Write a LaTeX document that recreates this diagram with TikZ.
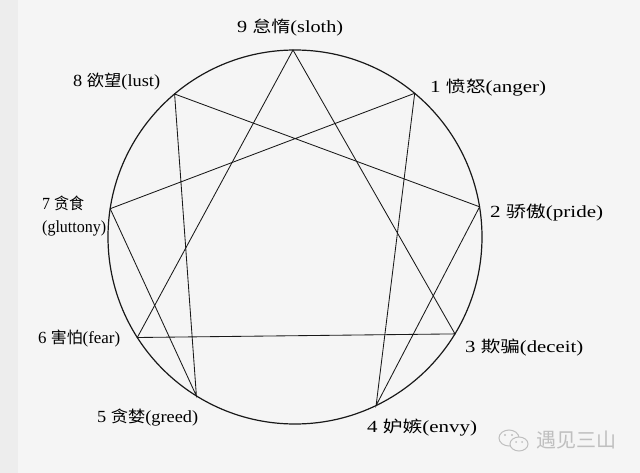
\documentclass[tikz,border=0pt]{standalone}
\usepackage{graphicx}
\usepackage{fontspec}
\setmainfont{Liberation Serif}
\newfontfamily\cjk{Noto Sans CJK SC}
\newcommand{\zh}[1]{{\cjk\fontsize{16}{20}\selectfont #1}}
\newcommand{\fitw}[2]{\resizebox{#1pt}{\height}{#2}}
\begin{document}
\begin{tikzpicture}[x=1pt,y=-1pt,
  lab/.style={anchor=west,inner sep=0pt,font=\fontsize{17}{24}\selectfont,text=black},
  ring/.style={line width=1.2pt,black!90},
  star/.style={line width=0.85pt,black!90}]
\useasboundingbox[fill=black!4] (0,0) rectangle (640,473);
\fill[black!7] (0,0) rectangle (18,473);
\coordinate (c) at (295,237);
\coordinate (p9) at (293.0,50.0);
\coordinate (p1) at (414.7,93.3);
\coordinate (p2) at (479.6,206.8);
\coordinate (p3) at (455.0,333.9);
\coordinate (p4) at (376.1,405.5);
\coordinate (p5) at (196.4,395.9);
\coordinate (p6) at (137.3,337.5);
\coordinate (p7) at (110.2,208.7);
\coordinate (p8) at (174.6,94.0);
\draw[ring] (c) circle[radius=187];
\draw[star] (p9) -- (p3) -- (p6) -- cycle;
\draw[star] (p1) -- (p4) -- (p2) -- (p8) -- (p5) -- (p7) -- cycle;
\node[lab] (l9) at (237,28) {\fitw{106}{9 \zh{怠惰}(sloth)}};
\node[lab] (l1) at (430,88) {\fitw{116}{1 \zh{愤怒}(anger)}};
\node[lab] (l8) at (73,82) {\fitw{87}{8 \zh{欲望}(lust)}};
\node[lab] (l7a) at (42,203) {\fitw{42}{7 \zh{贪食}}};
\node[lab] (l7b) at (42,228) {\fitw{64}{(gluttony)}};
\node[lab] (l2) at (490,213) {\fitw{113}{2 \zh{骄傲}(pride)}};
\node[lab] (l6) at (38,339) {\fitw{82}{6 \zh{害怕}(fear)}};
\node[lab] (l3) at (465,348) {\fitw{118}{3 \zh{欺骗}(deceit)}};
\node[lab] (l5) at (97,418) {\fitw{101}{5 \zh{贪婪}(greed)}};
\node[lab] (l4) at (367,428) {\fitw{110}{4 \zh{妒嫉}(envy)}};
\node[anchor=west,inner sep=0pt,text=black!25,font=\cjk\fontsize{20}{24}\selectfont] (wm) at (536,440) {遇见三山};
\begin{scope}[black!25,line width=1pt]
\draw (509,438) ellipse[x radius=10,y radius=8];
\fill[black!4] (519,444) ellipse[x radius=9,y radius=7];
\draw (519,444) ellipse[x radius=9,y radius=7];
\fill (505,435) circle[radius=1.2];
\fill (512,435) circle[radius=1.2];
\fill (516,442) circle[radius=1];
\fill (522,442) circle[radius=1];
\end{scope}
\end{tikzpicture}
\end{document}
